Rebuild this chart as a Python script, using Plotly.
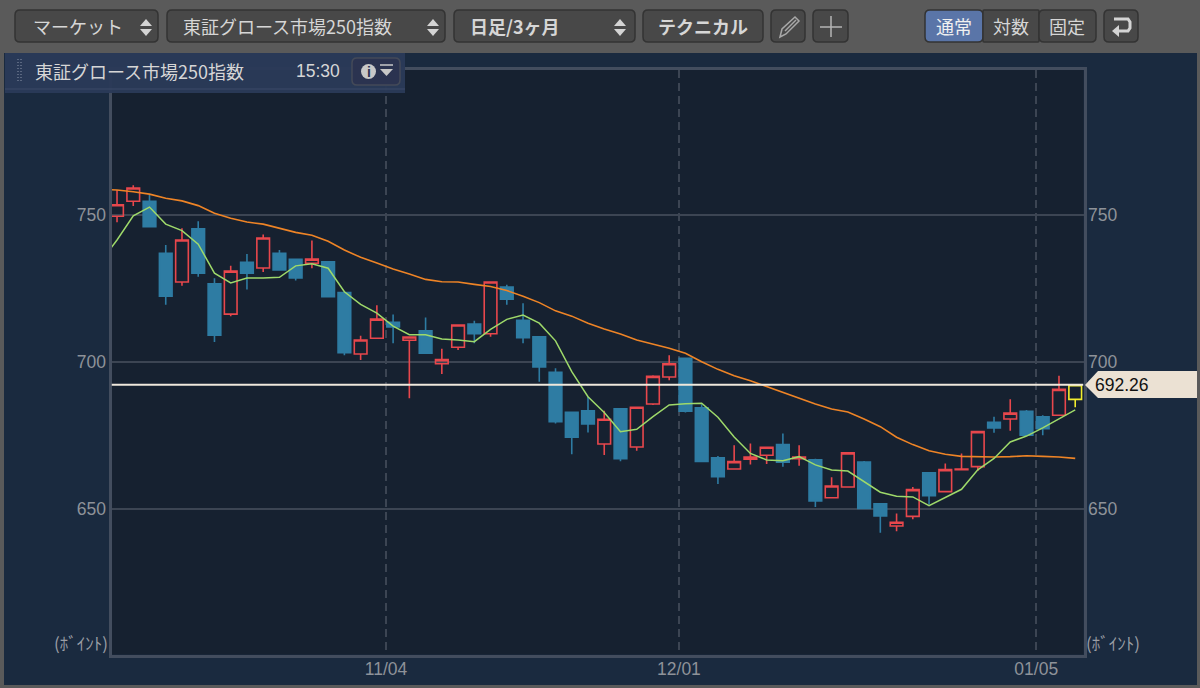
import plotly.graph_objects as go

# 東証グロース市場250指数, daily candles
opens = [749.6, 754.7, 754.7, 737.0, 727.2, 745.3, 726.6, 716.3, 733.9, 732.0,
         737.0, 734.9, 733.6, 734.1, 723.6, 702.7, 708.1, 713.5, 707.4, 710.6,
         699.4, 705.0, 712.9, 709.6, 725.5, 714.2, 708.6, 696.5, 682.9, 683.4,
         672.1, 684.1, 671.1, 685.7, 694.9, 701.3, 684.4, 667.4, 663.6, 666.9,
         668.3, 671.9, 667.1, 666.7, 653.8, 657.5, 666.0, 651.8, 644.2, 647.5,
         662.3, 655.9, 663.4, 664.4, 679.5, 680.6, 683.2, 681.4, 681.9, 687.3]
highs = [758.5, 760.1, 756.8, 739.8, 745.5, 747.9, 728.5, 732.7, 736.7, 743.4,
         738.1, 735.0, 741.3, 734.2, 723.7, 708.9, 719.3, 716.2, 708.6, 715.1,
         704.5, 712.7, 714.0, 727.3, 726.3, 720.0, 708.7, 697.9, 683.2, 688.2,
         683.4, 684.2, 684.7, 695.5, 702.3, 701.4, 685.6, 668.0, 671.7, 672.3,
         671.1, 675.7, 671.7, 667.1, 660.8, 669.2, 666.3, 651.9, 648.5, 657.5,
         662.4, 665.5, 668.9, 676.4, 681.4, 687.3, 683.7, 681.9, 695.3, 692.3]
lows = [747.5, 753.1, 745.8, 719.5, 725.9, 729.0, 706.8, 715.6, 724.7, 730.6,
        731.1, 727.7, 731.9, 722.1, 702.3, 700.7, 708.0, 706.4, 687.7, 702.9,
        695.9, 704.1, 706.4, 708.6, 719.5, 706.4, 693.3, 679.1, 668.6, 676.0,
        668.4, 666.2, 669.8, 685.4, 693.8, 682.8, 666.1, 658.5, 663.5, 665.1,
        665.3, 664.4, 664.7, 650.7, 653.7, 657.4, 650.1, 641.9, 642.4, 646.5,
        651.5, 655.8, 663.3, 662.9, 675.9, 676.6, 675.0, 675.1, 681.8, 684.6]
closes = [753.5, 759.2, 746.0, 722.4, 741.5, 730.2, 709.1, 730.9, 730.2, 742.2,
          731.3, 728.6, 735.0, 722.2, 703.2, 707.5, 714.6, 711.9, 708.5, 703.0,
          700.8, 712.6, 709.6, 727.2, 721.4, 708.3, 698.3, 679.7, 674.4, 678.9,
          680.5, 667.1, 684.6, 695.1, 699.4, 683.3, 666.2, 661.0, 666.1, 667.7,
          671.0, 665.9, 667.7, 652.7, 657.8, 669.1, 650.2, 647.6, 645.5, 656.6,
          654.5, 663.4, 663.6, 676.3, 677.6, 682.6, 675.1, 677.3, 690.7, 692.26]

# moving averages, first point sits on the left edge of the plot
ma_days = [-0.43] + list(range(60))
ma_short = [738.3, 741.5, 749.7, 752.7, 746.9, 744.7, 740.1, 730.2, 726.9, 728.6, 728.6,
            728.8, 732.7, 733.4, 731.9, 723.9, 719.6, 716.6, 712.2, 709.3, 709.3,
            707.8, 707.5, 706.9, 711.1, 714.5, 716.0, 713.2, 707.2, 696.7, 688.2,
            682.8, 676.3, 677.1, 681.4, 685.4, 685.8, 686.0, 681.2, 674.5, 668.9,
            666.7, 666.4, 667.8, 665.0, 663.3, 662.9, 659.3, 655.7, 654.3, 654.1,
            651.1, 653.8, 656.7, 663.3, 667.2, 672.8, 674.8, 677.6, 680.6, 683.7]
ma_long = [758.6, 758.5, 757.9, 757.1, 755.7, 754.8, 753.2, 750.6, 748.9, 747.6, 746.9,
           745.5, 744.1, 743.1, 741.1, 738.1, 735.6, 733.7, 731.6, 729.9, 728.1,
           727.3, 727.2, 726.4, 725.7, 724.3, 722.4, 720.2, 717.4, 715.6, 713.2,
           711.2, 709.5, 707.5, 706.2, 704.7, 703.0, 700.1, 697.5, 695.3, 693.6,
           691.6, 689.7, 687.7, 685.7, 684.0, 683.0, 680.6, 678.0, 674.4, 671.9,
           669.8, 668.6, 667.9, 667.7, 667.7, 667.8, 668.1, 667.9, 667.7, 667.2]

days = list(range(60))
date_ticks = [16.56, 34.6, 56.6]
date_labels = ['11/04', '12/01', '01/05']
price_ticks = [650, 700, 750]
last_price = 692.26

W, H = 1200, 688
CJK = 'Noto Sans CJK JP'
SANS = 'Liberation Sans'


def px(x):
    return x / W


def py(y):
    return 1 - y / H


def round_path(x0, y0, x1, y1, r=5):
    a, b, c, d = px(x0), px(x1), py(y0), py(y1)
    rx, ry = r / W, r / H
    return (f'M{a + rx},{c} L{b - rx},{c} Q{b},{c} {b},{c - ry} L{b},{d + ry} Q{b},{d} {b - rx},{d} '
            f'L{a + rx},{d} Q{a},{d} {a},{d + ry} L{a},{c - ry} Q{a},{c} {a + rx},{c} Z')


def poly_path(points, close=True):
    s = 'M' + ' L'.join(f'{px(x)},{py(y)}' for x, y in points)
    return s + (' Z' if close else '')


shapes = []
annotations = []


def add_path(path, fill='rgba(0,0,0,0)', line='rgba(0,0,0,0)', width=1, layer='above'):
    shapes.append(dict(type='path', xref='paper', yref='paper', path=path, fillcolor=fill,
                       line=dict(color=line, width=width), layer=layer))


def add_text(text, x, y, size=18, color='#d6d6d6', anchor='left', family=CJK, bold=False):
    if bold:
        text = f'<b>{text}</b>'
    annotations.append(dict(text=text, x=px(x), y=py(y), xref='paper', yref='paper', showarrow=False,
                            xanchor=anchor, yanchor='middle', borderpad=0,
                            font=dict(size=size, color=color, family=family)))


def button(x0, x1, fill='#484848'):
    add_path(round_path(x0, 10, x1, 42), fill=fill, line='#333333', width=1.5)


def updown(x):
    add_path(poly_path([(x - 6, 26), (x + 6, 26), (x, 19)]), fill='#d4d4d4')
    add_path(poly_path([(x - 6, 29), (x + 6, 29), (x, 36)]), fill='#d4d4d4')


# grey frame round the chart panel
for box in [(0, 0, W, 53), (0, 0, 4, H), (1197, 0, W, H), (0, 685, W, H)]:
    add_path(poly_path([(box[0], box[1]), (box[2], box[1]), (box[2], box[3]), (box[0], box[3])]),
             fill='#5a5a5a', layer='below')

# toolbar
button(15, 158)
updown(146)
add_text('マーケット', 32, 26)
button(167, 445)
updown(433)
add_text('東証グロース市場250指数', 182, 26)
button(454, 635)
updown(620)
add_text('日足/3ヶ月', 469, 26, bold=True)
button(643, 763)
add_text('テクニカル', 703, 26, anchor='center', bold=True)
button(771, 805)
add_path(poly_path([(780, 37), (782, 29), (795, 17), (799, 21), (786, 34)]), line='#a8a8a8', width=1.5)
add_path(poly_path([(785, 31), (796, 20)], close=False), line='#a8a8a8', width=1.5)
button(813, 848)
add_path(poly_path([(820, 27), (842, 27)], close=False), line='#b4b4b4', width=1.5)
add_path(poly_path([(831, 16), (831, 37)], close=False), line='#b4b4b4', width=1.5)
add_path(round_path(925, 10, 983, 42), fill='#5a75a8', line='#333333', width=1.5)
add_path(round_path(983, 10, 1039, 42, 1), fill='#484848', line='#333333', width=1.5)
add_path(round_path(1039, 10, 1096, 42), fill='#484848', line='#333333', width=1.5)
add_text('通常', 954, 26, color='#f0f0f0', anchor='center')
add_text('対数', 1011, 26, anchor='center')
add_text('固定', 1067, 26, anchor='center')
button(1104, 1138)
add_path(poly_path([(1114, 19), (1128, 19), (1130, 22), (1130, 28), (1128, 31), (1117, 31)], close=False),
         line='#d4d4d4', width=3)
add_path(poly_path([(1119, 25), (1112, 31), (1119, 37)]), fill='#d4d4d4')

# info strip over the top left of the chart
add_path(poly_path([(5, 53), (405, 53), (405, 93), (5, 93)]), fill='rgba(42,58,88,0.97)')
add_path(poly_path([(5, 89), (405, 89)], close=False), line='#3d4b68', width=1)
for dot_x in [18, 21]:
    shapes.append(dict(type='line', xref='paper', yref='paper', x0=px(dot_x), x1=px(dot_x), y0=py(59), y1=py(82),
                       line=dict(color='#5a6780', width=2, dash='1px,2px')))
add_text('東証グロース市場250指数', 34, 71)
add_text('15:30', 295, 71, size=17.5, family=SANS)
add_path(round_path(352, 58, 400, 85), fill='#2b3350', line='#444a58', width=1.5)
shapes.append(dict(type='circle', xref='paper', yref='paper', x0=px(361), x1=px(376), y0=py(79), y1=py(64),
                   fillcolor='#c8c8c8', line=dict(width=0)))
add_text('i', 368.5, 71.5, size=14, color='#2b3350', anchor='center', family=SANS, bold=True)
add_path(poly_path([(380, 65), (393, 65)], close=False), line='#c8c8c8', width=1.5)
add_path(poly_path([(380, 69), (393, 69), (386.5, 76)]), fill='#c8c8c8')

# price tag of the last close
add_path(poly_path([(1085, 385), (1098, 371), (1197, 371), (1197, 398), (1098, 398)]), fill='#ebe1d3')
add_text(f'{last_price:.2f}', 1094, 385, size=17.5, color='#111111', family=SANS)

add_text('(ﾎﾞｲﾝﾄ)', 109, 642, size=17, color='#9a9ea5', anchor='right')
add_text('(ﾎﾞｲﾝﾄ)', 1085, 642, size=17, color='#9a9ea5')

# current price line
shapes.append(dict(type='line', xref='x', yref='y', x0=-0.34, x1=59.51, y0=last_price, y1=last_price,
                   line=dict(color='#efe8dc', width=2), layer='above'))

fig = go.Figure()
fig.add_trace(go.Candlestick(
    x=days[:-1], open=opens[:-1], high=highs[:-1], low=lows[:-1], close=closes[:-1],
    increasing=dict(line=dict(color='#e8474c', width=1.6), fillcolor='rgba(0,0,0,0)'),
    decreasing=dict(line=dict(color='#2e7ca3', width=1.6), fillcolor='#2e7ca3'),
    whiskerwidth=0, hoverinfo='skip', showlegend=False))
fig.add_trace(go.Candlestick(
    x=days[-1:], open=opens[-1:], high=highs[-1:], low=lows[-1:], close=closes[-1:],
    increasing=dict(line=dict(color='#f2ee2e', width=1.6), fillcolor='rgba(0,0,0,0)'),
    decreasing=dict(line=dict(color='#f2ee2e', width=1.6), fillcolor='rgba(0,0,0,0)'),
    whiskerwidth=0, hoverinfo='skip', showlegend=False))
fig.add_trace(go.Scatter(x=ma_days, y=ma_long, mode='lines', yaxis='y2', hoverinfo='skip', showlegend=False,
                         line=dict(color='#ee8426', width=1.6)))
fig.add_trace(go.Scatter(x=ma_days, y=ma_short, mode='lines', yaxis='y2', hoverinfo='skip', showlegend=False,
                         line=dict(color='#9ed96a', width=1.5)))

tick_font = dict(family=SANS, size=17.5, color='#8e9299')
fig.update_layout(
    width=W, height=H, margin=dict(l=0, r=0, t=0, b=0), boxgap=0.22, boxgroupgap=0,
    paper_bgcolor='#1a2a3f', plot_bgcolor='#162130',
    shapes=shapes, annotations=annotations,
    xaxis=dict(domain=[px(111.5), px(1083.5)], range=[-0.34, 59.51], rangeslider=dict(visible=False),
               tickmode='array', tickvals=date_ticks, ticktext=date_labels, tickfont=tick_font, ticks='',
               ticklabelstandoff=-4, showgrid=True, gridcolor='#3c4553', gridwidth=1.5, griddash='8px,5px',
               zeroline=False, showline=True, mirror=True, linecolor='#434d5e', linewidth=3),
    yaxis=dict(domain=[py(654.5), py(69.5)], range=[600.5, 799.5], tickmode='array', tickvals=price_ticks,
               tickfont=tick_font, ticks='', ticklabelstandoff=-1, showgrid=True, gridcolor='#3c4553', gridwidth=1.5,
               zeroline=False, showline=True, linecolor='#434d5e', linewidth=3),
    yaxis2=dict(domain=[py(654.5), py(69.5)], range=[600.5, 799.5], overlaying='y', side='right', anchor='x',
                tickmode='array', tickvals=price_ticks, tickfont=tick_font, ticks='', ticklabelstandoff=-2,
                showgrid=False, zeroline=False, showline=True, linecolor='#434d5e', linewidth=3),
)

fig.write_html('out.html', config={'displayModeBar': False},
               post_script="document.body.style.margin='0';document.body.style.overflow='hidden';")
